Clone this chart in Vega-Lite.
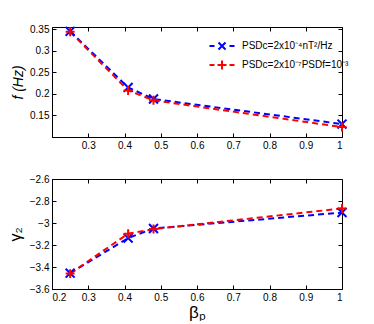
{
  "$schema": "https://vega.github.io/schema/vega-lite/v6.json",
  "padding": {"left": 6, "top": 22, "right": 0, "bottom": 0},
  "background": "white",
  "bounds": "flush",
  "spacing": 42,
  "config": {
    "font": "Liberation Sans",
    "view": {"stroke": "black", "strokeWidth": 1},
    "axis": {
      "grid": false,
      "domainColor": "black",
      "tickColor": "black",
      "labelColor": "black",
      "titleColor": "black",
      "labelFontSize": 10,
      "tickSize": -4,
      "labelPadding": 7,
      "titleFontWeight": "normal",
      "format": "~g"
    },
    "legend": {"padding": 0}
  },
  "datasets": {
    "top": [
      {"beta": 0.25, "f": 0.345, "series": "a"},
      {"beta": 0.41, "f": 0.215, "series": "a"},
      {"beta": 0.48, "f": 0.188, "series": "a"},
      {"beta": 1.0, "f": 0.130, "series": "a"},
      {"beta": 0.25, "f": 0.344, "series": "b"},
      {"beta": 0.41, "f": 0.208, "series": "b"},
      {"beta": 0.48, "f": 0.185, "series": "b"},
      {"beta": 1.0, "f": 0.123, "series": "b"}
    ],
    "bottom": [
      {"beta": 0.25, "g": -3.456, "series": "a"},
      {"beta": 0.41, "g": -3.137, "series": "a"},
      {"beta": 0.48, "g": -3.05, "series": "a"},
      {"beta": 1.0, "g": -2.905, "series": "a"},
      {"beta": 0.25, "g": -3.46, "series": "b"},
      {"beta": 0.41, "g": -3.097, "series": "b"},
      {"beta": 0.48, "g": -3.055, "series": "b"},
      {"beta": 1.0, "g": -2.868, "series": "b"}
    ]
  },
  "resolve": {"scale": {"color": "independent"}, "legend": {"color": "independent"}},
  "vconcat": [
    {
      "width": 290,
      "height": 110,
      "data": {"name": "top"},
      "resolve": {"axis": {"x": "independent", "y": "independent"}},
      "layer": [
        {
          "mark": {"type": "line", "strokeWidth": 2, "strokeDash": [6, 4]},
          "encoding": {
            "x": {"field": "beta", "type": "quantitative", "scale": {"domain": [0.2, 1], "nice": false},
                  "axis": {"values": [0.3, 0.4, 0.5, 0.6, 0.7, 0.8, 0.9, 1], "title": null}},
            "y": {"field": "f", "type": "quantitative", "scale": {"domain": [0.1, 0.355], "nice": false, "zero": false},
                  "axis": {"values": [0.15, 0.2, 0.25, 0.3, 0.35], "title": "f (Hz)", "titleFontSize": 14, "titleFontStyle": "italic", "titlePadding": 4}},
            "color": {"field": "series", "type": "nominal", "scale": {"domain": ["a", "b"], "range": ["#0000ff", "#ff0000"]},
              "legend": {
                "orient": "none", "legendX": 159, "legendY": 8, "title": null,
                "labelFontSize": 10, "labelOffset": 9, "rowPadding": 0, "symbolSize": 400,
                "symbolStrokeWidth": 2, "symbolDash": [1000, 1], "symbolFillColor": "transparent",
                "symbolType": {"expr": "datum.value == 'a' ? 'M-1.25,0L-0.75,0M-0.35,-0.35L0.35,0.35M-0.35,0.35L0.35,-0.35M0.75,0L1.25,0' : 'M-1.25,0L-0.75,0M-0.45,0L0.45,0M0,-0.45L0,0.45M0.75,0L1.25,0'"},
                "labelExpr": "datum.value == 'a' ? 'PSDc=2x10⁻⁴nT²/Hz' : 'PSDc=2x10⁻⁷PSDf=10⁻³'"
              }},
            "detail": {"field": "series"}
          }
        },
        {
          "transform": [{"filter": "datum.series == 'a'"}],
          "mark": {"type": "point", "filled": false, "strokeWidth": 2, "size": 80, "opacity": 1, "color": "#0000ff", "shape": "M-1,-1L1,1M-1,1L1,-1"},
          "encoding": {
            "x": {"field": "beta", "type": "quantitative", "axis": {"orient": "top", "labels": false, "title": null, "domain": false, "values": [0.3, 0.4, 0.5, 0.6, 0.7, 0.8, 0.9, 1]}},
            "y": {"field": "f", "type": "quantitative", "axis": {"orient": "right", "labels": false, "title": null, "domain": false, "values": [0.15, 0.2, 0.25, 0.3, 0.35]}}
          }
        },
        {
          "transform": [{"filter": "datum.series == 'b'"}],
          "mark": {"type": "point", "filled": false, "strokeWidth": 2, "size": 80, "opacity": 1, "color": "#ff0000", "shape": "M-1,0L1,0M0,-1L0,1"},
          "encoding": {
            "x": {"field": "beta", "type": "quantitative", "axis": null},
            "y": {"field": "f", "type": "quantitative", "axis": null}
          }
        }
      ]
    },
    {
      "width": 290,
      "height": 110,
      "data": {"name": "bottom"},
      "resolve": {"axis": {"x": "independent", "y": "independent"}},
      "layer": [
        {
          "mark": {"type": "line", "strokeWidth": 2, "strokeDash": [6, 4]},
          "encoding": {
            "x": {"field": "beta", "type": "quantitative", "scale": {"domain": [0.2, 1], "nice": false},
                  "axis": {"values": [0.2, 0.3, 0.4, 0.5, 0.6, 0.7, 0.8, 0.9, 1], "title": "βₚ", "titleFontSize": 17, "titlePadding": 2}},
            "y": {"field": "g", "type": "quantitative", "scale": {"domain": [-3.6, -2.6], "nice": false, "zero": false},
                  "axis": {"values": [-3.6, -3.4, -3.2, -3, -2.8, -2.6], "title": "γ₂", "titleFontSize": 16, "titlePadding": 6}},
            "color": {"field": "series", "type": "nominal", "scale": {"domain": ["a", "b"], "range": ["#0000ff", "#ff0000"]}, "legend": null},
            "detail": {"field": "series"}
          }
        },
        {
          "transform": [{"filter": "datum.series == 'a'"}],
          "mark": {"type": "point", "filled": false, "strokeWidth": 2, "size": 80, "opacity": 1, "color": "#0000ff", "shape": "M-1,-1L1,1M-1,1L1,-1"},
          "encoding": {
            "x": {"field": "beta", "type": "quantitative", "axis": {"orient": "top", "labels": false, "title": null, "domain": false, "values": [0.3, 0.4, 0.5, 0.6, 0.7, 0.8, 0.9, 1]}},
            "y": {"field": "g", "type": "quantitative", "axis": {"orient": "right", "labels": false, "title": null, "domain": false, "values": [-3.4, -3.2, -3, -2.8]}}
          }
        },
        {
          "transform": [{"filter": "datum.series == 'b'"}],
          "mark": {"type": "point", "filled": false, "strokeWidth": 2, "size": 80, "opacity": 1, "color": "#ff0000", "shape": "M-1,0L1,0M0,-1L0,1"},
          "encoding": {
            "x": {"field": "beta", "type": "quantitative", "axis": null},
            "y": {"field": "g", "type": "quantitative", "axis": null}
          }
        }
      ]
    }
  ]
}
